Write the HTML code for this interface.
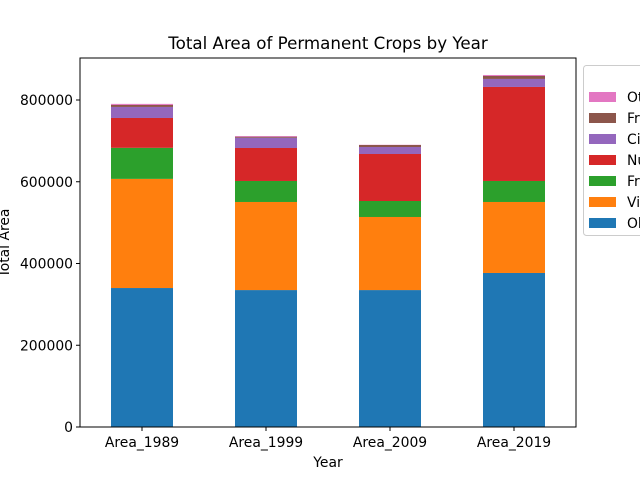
<!DOCTYPE html>
<html><head><meta charset="utf-8"><style>
body{margin:0;background:#fff;overflow:hidden}
svg{font-family:"DejaVu Sans","Liberation Sans",sans-serif}
</style></head><body>
<svg id="chart" width="640" height="480">
<text x="328" y="49" text-anchor="middle" font-size="16.7">Total Area of Permanent Crops by Year</text>
<text x="328" y="467" text-anchor="middle" font-size="13.9">Year</text>
<text transform="translate(9,243) rotate(-90)" text-anchor="middle" font-size="13.9">Total Area</text>
<g id="bars"></g><g id="axes"></g><g id="legend"></g>
</svg>
<script>
const categories=["Area_1989","Area_1999","Area_2009","Area_2019"];
const seriesNames=["Olive groves","Vineyards","Fruit trees","Nuts","Citrus","Fruits (tropical)","Other"];
const olive=[340000,335000,335000,376800];
const vine=[267000,215500,178800,173700];
const fruit=[76000,51400,39100,51400];
const nuts=[73000,80700,115000,230000];
const citrus=[27000,25100,17100,19600];
const tropical=[5000,2500,4900,7300];
const other=[2500,1700,500,2400];
const yTicks=[0,200000,400000,600000,800000];
const series=[olive,vine,fruit,nuts,citrus,tropical,other];
const colors=["#1f77b4","#ff7f0e","#2ca02c","#d62728","#9467bd","#8c564b","#e377c2"];
const NS="http://www.w3.org/2000/svg";
const L=80,R=576,T=58,B=427;
const y=v=>B-v*(327/800000);
const bw=(R-L)/categories.length;
const x=i=>L+bw*(i+0.5);
function mk(t,a,p){const e=document.createElementNS(NS,t);for(const k in a)e.setAttribute(k,a[k]);p.appendChild(e);return e;}
const bars=document.getElementById('bars');
categories.forEach((c,i)=>{let cum=0;series.forEach((s,j)=>{const v=s[i];
const r=mk('rect',{x:x(i)-31,y:y(cum+v),width:62,height:y(cum)-y(cum+v),fill:colors[j]},bars);

cum+=v;});});
const ax=document.getElementById('axes');
const fr=mk('rect',{x:L,y:T,width:R-L,height:B-T,fill:'none',stroke:'#000','stroke-width':1},ax);


yTicks.forEach(t=>{mk('line',{x1:L-4,x2:L,y1:y(t),y2:y(t),stroke:'#000'},ax);
const tx=mk('text',{x:L-7,y:y(t)+5,'text-anchor':'end','font-size':'13.9'},ax);tx.textContent=t;

});
categories.forEach((c,i)=>{mk('line',{x1:x(i),x2:x(i),y1:B,y2:B+4,stroke:'#000'},ax);
const tx=mk('text',{x:x(i),y:B+20,'text-anchor':'middle','font-size':'13.9'},ax);tx.textContent=c;

});
const lg=document.getElementById('legend');
const box=mk('rect',{x:583.5,y:65.5,width:70,height:170,rx:3,fill:'#fff',stroke:'#ccc'},lg);


for(let j=seriesNames.length-1,k=0;j>=0;j--,k++){const yy=97+k*21;
mk('rect',{x:589,y:yy-5,width:27,height:10,fill:colors[j]},lg);
const tx=mk('text',{x:627,y:yy+5,'font-size':'13.9'},lg);tx.textContent=seriesNames[j];

}
</script>
</body></html>
